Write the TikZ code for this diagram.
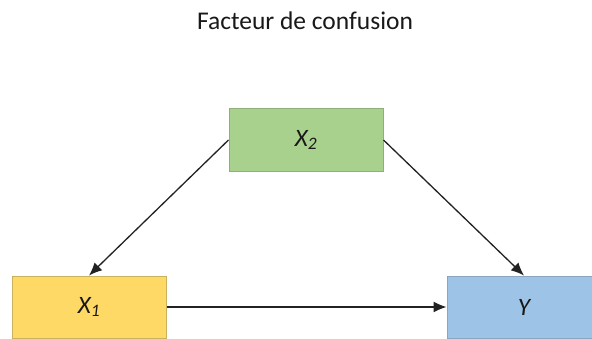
\documentclass[tikz,border=0pt]{standalone}
\usepackage{fontspec}
\setmainfont{Carlito}
\usetikzlibrary{arrows.meta}
\definecolor{gfill}{HTML}{A9D18E}
\definecolor{gdraw}{HTML}{8FAF7A}
\definecolor{yfill}{HTML}{FFD966}
\definecolor{ydraw}{HTML}{C9B160}
\definecolor{bfill}{HTML}{9DC3E6}
\definecolor{bdraw}{HTML}{8BA5C0}
\definecolor{arr}{HTML}{222222}
\tikzset{
  varbox/.style={draw, line width=1pt, minimum width=154pt, minimum height=62pt, inner sep=0pt, font=\fontsize{25}{30}\selectfont\itshape, text=black!90},
  link/.style={draw=arr, line width=1.3pt, -{Latex[length=13pt,width=11pt]}}
}
\begin{document}
\begin{tikzpicture}[x=1pt,y=1pt]
\useasboundingbox (0,0) rectangle (592,338);
\clip (0,0) rectangle (592,338);
\fill[white] (0,0) rectangle (592,338);
\node[font=\fontsize{25.5}{30}\selectfont, text=black!90] (title) at (305,317) {Facteur de confusion};
\node[varbox, fill=gfill, draw=gdraw] (x2) at (306,198) {X\textsubscript{\itshape 2}};
\node[varbox, fill=yfill, draw=ydraw] (x1) at (89,31) {X\textsubscript{\itshape 1}};
\node[varbox, fill=bfill, draw=bdraw] (y) at (524,31) {Y};
\draw[link] (x2.west) -- (x1.north);
\draw[link] (x2.east) -- (y.north);
\draw[link] (x1.east) -- (y.west);
\end{tikzpicture}
\end{document}
